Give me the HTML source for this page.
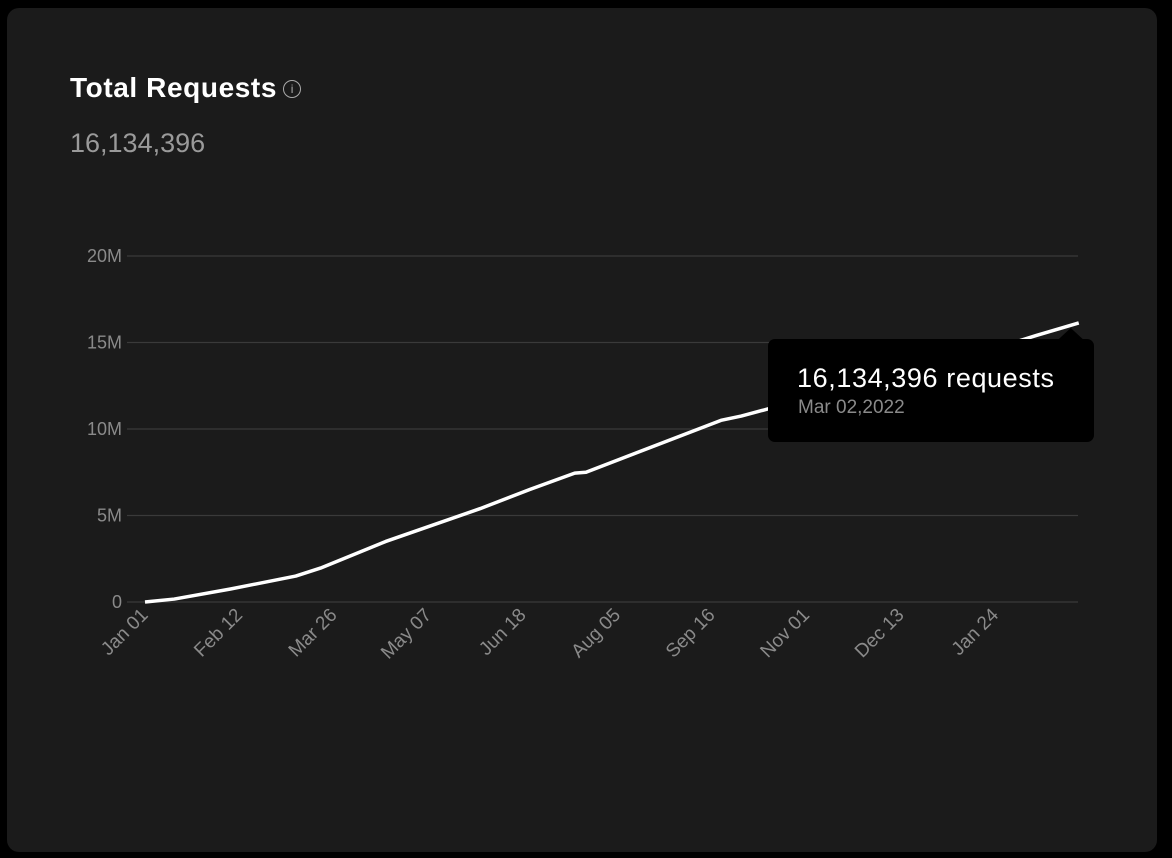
<!DOCTYPE html>
<html><head><meta charset="utf-8"><style>
html,body{margin:0;padding:0;background:#000;width:1172px;height:858px;overflow:hidden;font-family:"Liberation Sans",sans-serif}
#card{position:absolute;left:7px;top:8px;width:1150px;height:844px;background:#1b1b1b;border-radius:12px}
#title{position:absolute;left:70px;top:72px;color:#fff;font-size:28px;font-weight:bold;letter-spacing:0.6px}
#info{display:inline-block;width:16px;height:16px;border:1.5px solid #aaa;border-radius:50%;color:#aaa;font-size:12px;text-align:center;line-height:16px;vertical-align:4px;margin-left:6px;font-weight:normal;letter-spacing:0}
#total{position:absolute;left:70px;top:128px;color:#9a9a9a;font-size:27px}
svg{position:absolute;left:0;top:0}
</style></head><body>
<div id="card"></div>
<div id="title">Total Requests<span id="info">i</span></div>
<div id="total">16,134,396</div>
<svg id="chart" width="1172" height="858"></svg>
<script>
const dayOffsets=[0,13,38,67,78,107,149,171,191,196,256,265,278,300,330,360,380,396,415];
const values=[0,0.17,0.75,1.5,1.96,3.5,5.4,6.5,7.45,7.5,10.5,10.75,11.2,11.9,12.9,13.9,14.75,15.4,16.13];
const yTicks=[0,5,10,15,20];
const yTickLabels=["0","5M","10M","15M","20M"];
const xTickDays=[0,42,84,126,168,210,252,294,336,378];
const xTickLabels=["Jan 01","Feb 12","Mar 26","May 07","Jun 18","Aug 05","Sep 16","Nov 01","Dec 13","Jan 24"];
const NS="http://www.w3.org/2000/svg";
const svg=document.getElementById('chart');
const x=d=>145+d*2.25;
const y=v=>602-v*17.3;
function mk(t,a){const e=document.createElementNS(NS,t);for(const k in a)e.setAttribute(k,a[k]);svg.appendChild(e);return e;}
yTicks.forEach((v,i)=>{
 const l=mk('line',{x1:127,x2:1078,y1:y(v),y2:y(v),stroke:'#3a3a3a','stroke-width':1.3});
 
 
 const t=mk('text',{x:122,y:y(v)+6,'text-anchor':'end',fill:'#8a8a8a','font-size':18,'font-family':'Liberation Sans, sans-serif'});
 t.textContent=yTickLabels[i];
 
 
});
xTickDays.forEach((d,i)=>{
 const px=x(d)+4,py=616;
 const t=mk('text',{x:px,y:py,'text-anchor':'end',fill:'#8a8a8a','font-size':19,'font-family':'Liberation Sans, sans-serif',transform:`rotate(-45 ${px} ${py})`});
 t.textContent=xTickLabels[i];
 
 
});
const p=mk('polyline',{points:dayOffsets.map((d,i)=>x(d)+','+y(values[i])).join(' '),fill:'none',stroke:'#fff','stroke-width':3.5,'stroke-linejoin':'round'});


const g=document.createElementNS(NS,'g');svg.appendChild(g);


const lx=x(dayOffsets[dayOffsets.length-1])-8;
g.innerHTML=`<polygon points="${lx-13},340 ${lx},328 ${lx+13},340" fill="#000"/>
<rect x="768" y="339" width="326" height="103" rx="7" fill="#000"/>
<text x="797" y="387" fill="#fff" font-size="27" letter-spacing="0.6" font-family="Liberation Sans, sans-serif">16,134,396 requests</text>
<text x="798" y="413" fill="#8a8a8a" font-size="19" font-family="Liberation Sans, sans-serif">Mar 02,2022</text>`;
</script>
</body></html>
